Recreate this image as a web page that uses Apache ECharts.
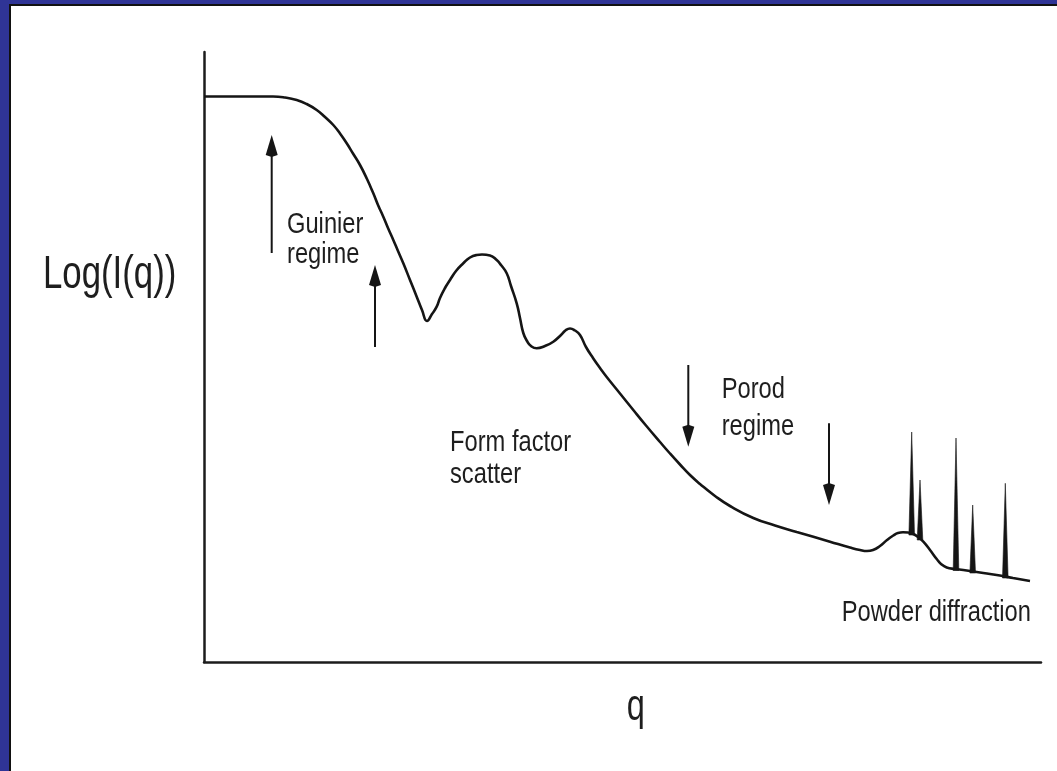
<!DOCTYPE html>
<html>
<head>
<meta charset="utf-8">
<title>Small-angle scattering regimes</title>
<script src="https://cdn.jsdelivr.net/npm/echarts@6/dist/echarts.min.js"></script>
<style>
  html, body { margin: 0; padding: 0; width: 1057px; height: 771px; overflow: hidden; background: #2f3496; }
  #frame { position: absolute; left: 9px; top: 4px; right: 0; bottom: 0; background: #ffffff;
           border-left: 2px solid #111; border-top: 2px solid #111; }
  #chart { position: absolute; left: 0; top: 0; width: 1057px; height: 771px; }
</style>
</head>
<body>
<div id="frame"></div>
<div id="chart"></div>
<script>
// Schematic scattering curve: q (arbitrary units) vs log intensity (arbitrary units)
const qValues = [
  0, 36, 69, 81, 92.7, 102.7, 112.7, 121, 129.3, 136,
  142.7, 149, 156, 163, 169.3, 174, 179.3, 184, 189.3, 194,
  199.3, 206, 212.7, 218, 223, 228, 232.7, 236, 241, 246,
  252, 259.3, 266, 272.7, 278, 286, 292.7, 297, 302.7, 307,
  312.7, 316, 319.3, 323, 327, 332.7, 341, 349.3, 357, 362,
  366, 371, 376, 382, 389.3, 396, 402.7, 416, 429.3, 442,
  456, 466, 476, 486, 496, 511, 526, 549.3, 571, 592.7,
  626, 646, 656, 663, 669, 676, 683, 689.3, 694, 699,
  704, 709.3, 714, 719.3, 726, 732.7, 737, 742.7, 751, 759.3,
  776, 792.7, 809, 826
];
const logI = [
  565.5, 565.5, 565.5, 564.5, 562, 558, 552, 545, 537, 528.5,
  518.7, 508.5, 497, 483, 468.7, 457, 445.3, 434, 422, 411,
  398.7, 382, 365.3, 352, 341, 348, 355.3, 364, 374, 382,
  391, 398.7, 404.5, 407, 407.5, 406.5, 402, 397, 388.7, 376,
  358.7, 344, 329, 321, 316, 313.7, 316, 320.3, 327, 332,
  333.5, 331.5, 327, 315, 303.5, 294, 285, 268.5, 252, 236.5,
  220, 208.5, 197.5, 187, 178, 166, 156, 144, 136.5, 130,
  120.3, 114.5, 112, 111, 112, 116, 122, 126.5, 129, 129.7,
  129.5, 128, 125, 120.3, 112, 103, 98, 94.5, 93, 92,
  89.5, 87, 84, 81
];

// Bragg peaks on top of the curve: position, peak height, background level
const peakQ    = [707.7, 716, 752, 768.7, 801.3];
const peakTop  = [230, 182, 224, 157, 178.7];
const peakBase = [128.5, 123.5, 93, 90.5, 85.5];

// Regime markers: position, tail end, arrow tip
const arrowQ    = [67.7, 171, 484.3, 625];
const arrowFrom = [409, 315, 297, 238.7];
const arrowTo   = [527, 397, 215.3, 157];

// Annotations: text, anchor (left edge, vertical middle)
const labelText = ['Log(I(q))', 'Guinier', 'regime', 'Form factor', 'scatter', 'Porod', 'regime', 'Powder diffraction', 'q'];
const labelQ    = [-161, 83, 83, 246, 246, 517.7, 517.7, 637.7, 422.7];
const labelY    = [386.5, 437.4, 407.4, 219, 187.4, 272.4, 235.4, 49, -45.6];
const labelSize = [47, 30, 30, 30, 30, 30, 30, 30, 44];

const INK = '#151515';
const FONT = '"Liberation Sans", Arial, Helvetica, sans-serif';

const curveData = qValues.map((q, i) => [q, logI[i]]);
const peakData = peakQ.map((q, i) => [q, peakTop[i], peakBase[i]]);
const arrowData = arrowQ.map((q, i) => [q, arrowFrom[i], arrowTo[i]]);
const labelData = labelQ.map((q, i) => [q, labelY[i]]);

const chart = echarts.init(document.getElementById('chart'), null, { renderer: 'canvas' });

chart.setOption({
  backgroundColor: 'transparent',
  animation: false,
  grid: { left: 204, right: 16, top: 52, bottom: 109 },
  xAxis: {
    type: 'value', min: 0, max: 837,
    axisLine: { show: true, lineStyle: { color: '#1c1c1c', width: 2.5 } },
    axisTick: { show: false }, axisLabel: { show: false }, splitLine: { show: false }
  },
  yAxis: {
    type: 'value', min: 0, max: 610,
    axisLine: { show: true, lineStyle: { color: '#1c1c1c', width: 2.5 } },
    axisTick: { show: false }, axisLabel: { show: false }, splitLine: { show: false }
  },
  series: [
    {
      type: 'line',
      data: curveData,
      smooth: 0.5,
      showSymbol: false,
      silent: true,
      lineStyle: { color: INK, width: 2.6 },
      z: 3
    },
    {
      // narrow filled spikes for the diffraction peaks
      type: 'custom',
      data: peakData,
      encode: { x: 0, y: 1 },
      silent: true,
      clip: false,
      z: 4,
      renderItem: function (params, api) {
        const top = api.coord([api.value(0), api.value(1)]);
        const base = api.coord([api.value(0), api.value(2)]);
        const hw = 2.8;
        return {
          type: 'polygon',
          shape: { points: [[base[0] - hw, base[1] + 1.5], [top[0], top[1]], [base[0] + hw, base[1] + 1.5]] },
          style: { fill: INK, stroke: INK, lineWidth: 0.6 }
        };
      }
    },
    {
      // vertical arrows marking the regime boundaries
      type: 'custom',
      data: arrowData,
      encode: { x: 0, y: 1 },
      silent: true,
      clip: false,
      z: 4,
      renderItem: function (params, api) {
        const tail = api.coord([api.value(0), api.value(1)]);
        const tip = api.coord([api.value(0), api.value(2)]);
        const dir = tip[1] < tail[1] ? -1 : 1;   // -1 points up
        const headLen = 20, headHalf = 6;
        const neck = tip[1] - dir * headLen;
        return {
          type: 'group',
          children: [
            {
              type: 'line',
              shape: { x1: tail[0], y1: tail[1], x2: tip[0], y2: neck + dir * 3 },
              style: { stroke: INK, lineWidth: 2 }
            },
            {
              type: 'polygon',
              shape: { points: [[tip[0], tip[1]], [tip[0] + headHalf, neck], [tip[0], neck - dir * 2], [tip[0] - headHalf, neck]] },
              style: { fill: INK }
            }
          ]
        };
      }
    },
    {
      // text annotations, set in a narrow sans face
      type: 'custom',
      data: labelData,
      encode: { x: 0, y: 1 },
      silent: true,
      clip: false,
      z: 5,
      renderItem: function (params, api) {
        const i = params.dataIndex;
        const p = api.coord([api.value(0), api.value(1)]);
        const size = labelSize[i];
        return {
          type: 'text',
          x: p[0],
          y: p[1],
          scaleX: size > 40 ? 0.74 : 0.79,
          scaleY: 1,
          style: {
            text: labelText[i],
            font: 'normal ' + size + 'px ' + FONT,
            fill: '#1e1e1e',
            align: 'left',
            verticalAlign: 'middle',
            textAlign: 'left',
            textVerticalAlign: 'middle'
          }
        };
      }
    }
  ]
});
</script>
</body>
</html>
